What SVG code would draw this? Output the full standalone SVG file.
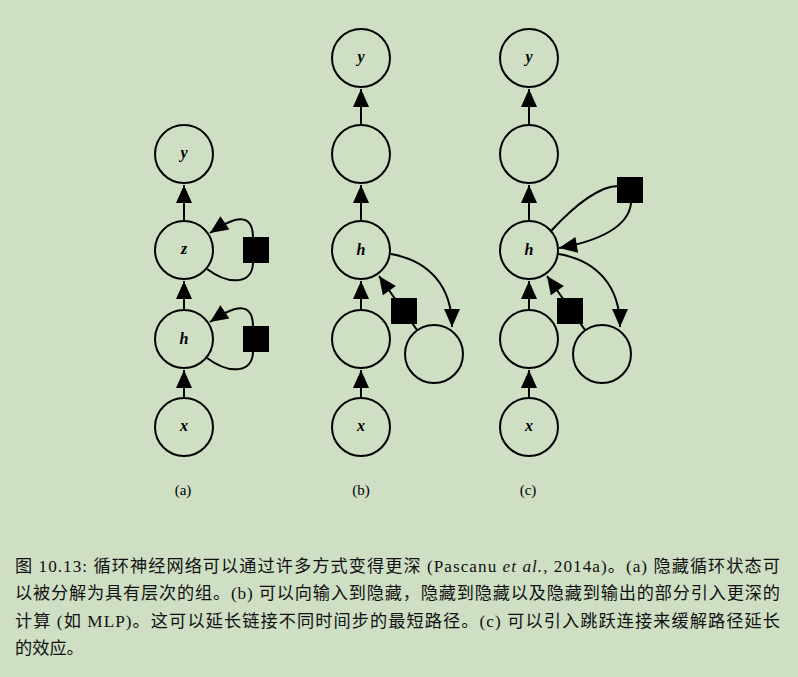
<svg xmlns="http://www.w3.org/2000/svg" width="798" height="677" viewBox="0 0 798 677">
<defs>
<marker id="ah" markerUnits="userSpaceOnUse" markerWidth="19" markerHeight="16" refX="18" refY="8" orient="auto" overflow="visible">
<path d="M0,0 L18,8 L0,16 z" fill="#000"/>
</marker>
<style>
.n{fill:none;stroke:#000;stroke-width:2}
.e{fill:none;stroke:#000;stroke-width:2;marker-end:url(#ah)}
.l{fill:none;stroke:#000;stroke-width:2}
.sq{fill:#000}
.lab{font-family:"Liberation Serif",serif;font-style:italic;font-weight:bold;font-size:16px;text-anchor:middle}
.sub{font-family:"Liberation Serif",serif;font-size:15px;text-anchor:middle}
.cap{font-family:"Liberation Serif","Noto Sans CJK SC",serif;font-size:17.2px;fill:#111}
</style>
</defs>
<rect width="798" height="677" fill="#cedfc4"/>

<g id="connectors">
<!-- (a) -->
<line class="e" x1="184" y1="398" x2="184" y2="370"/>
<line class="e" x1="184" y1="310" x2="184" y2="281"/>
<line class="e" x1="184" y1="221" x2="184" y2="185"/>
<path class="e" d="M207,269 C230,286 253,284 253,262 L253,238 C253,214 238,214 210,233"/>
<path class="e" d="M207,358 C230,375 253,373 253,351 L253,327 C253,303 238,303 210,322"/>
<!-- (b) -->
<line class="e" x1="361" y1="398" x2="361" y2="370"/>
<line class="e" x1="361" y1="310" x2="361" y2="281"/>
<line class="e" x1="361" y1="221" x2="361" y2="185"/>
<line class="e" x1="361" y1="125" x2="361" y2="89"/>
<line class="e" x1="417" y1="330" x2="379" y2="276"/>
<path class="e" d="M391,254 C430,261 452,287 452,327"/>
<!-- (c) -->
<line class="e" x1="529" y1="398" x2="529" y2="370"/>
<line class="e" x1="529" y1="310" x2="529" y2="281"/>
<line class="e" x1="529" y1="221" x2="529" y2="185"/>
<line class="e" x1="529" y1="125" x2="529" y2="89"/>
<line class="e" x1="585" y1="330" x2="547" y2="276"/>
<path class="e" d="M559,254 C598,261 620,287 620,327"/>
<path class="l" d="M551,231 C575,205 600,186 618,186"/>
<path class="e" d="M631,203 C629,226 600,241 559,248"/>
</g>

<g id="a-y"><circle class="n" cx="184" cy="154" r="29"/><text class="lab" x="184" y="158">y</text></g>
<g id="a-z"><circle class="n" cx="184" cy="250" r="29"/><text class="lab" x="184" y="254">z</text></g>
<g id="a-h"><circle class="n" cx="184" cy="339" r="29"/><text class="lab" x="184" y="344">h</text></g>
<g id="a-x"><circle class="n" cx="184" cy="427" r="29"/><text class="lab" x="184" y="431">x</text></g>
<g id="a-sq1"><rect class="sq" x="243" y="237" width="26" height="26"/></g>
<g id="a-sq2"><rect class="sq" x="243" y="326" width="26" height="26"/></g>

<g id="b-y"><circle class="n" cx="361" cy="58" r="29"/><text class="lab" x="361" y="62">y</text></g>
<g id="b-c1"><circle class="n" cx="361" cy="154" r="29"/></g>
<g id="b-h"><circle class="n" cx="361" cy="250" r="29"/><text class="lab" x="361" y="255">h</text></g>
<g id="b-c2"><circle class="n" cx="361" cy="339" r="29"/></g>
<g id="b-x"><circle class="n" cx="361" cy="427" r="29"/><text class="lab" x="361" y="431">x</text></g>
<g id="b-c3"><circle class="n" cx="434" cy="354" r="29"/></g>
<g id="b-sq"><rect class="sq" x="391" y="298" width="26" height="26"/></g>

<g id="c-y"><circle class="n" cx="529" cy="58" r="29"/><text class="lab" x="529" y="62">y</text></g>
<g id="c-c1"><circle class="n" cx="529" cy="154" r="29"/></g>
<g id="c-h"><circle class="n" cx="529" cy="250" r="29"/><text class="lab" x="529" y="255">h</text></g>
<g id="c-c2"><circle class="n" cx="529" cy="339" r="29"/></g>
<g id="c-x"><circle class="n" cx="529" cy="427" r="29"/><text class="lab" x="529" y="431">x</text></g>
<g id="c-c3"><circle class="n" cx="602" cy="354" r="29"/></g>
<g id="c-sq"><rect class="sq" x="557" y="298" width="26" height="26"/></g>
<g id="c-sq2"><rect class="sq" x="617" y="177" width="26" height="26"/></g>

<g id="sublabels">
<text class="sub" x="183" y="495">(a)</text>
<text class="sub" x="361" y="495">(b)</text>
<text class="sub" x="528" y="495">(c)</text>
</g>

<g id="caption">
<text class="cap" x="15" y="572" textLength="765" lengthAdjust="spacing">图 10.13: 循环神经网络可以通过许多方式变得更深 (Pascanu <tspan font-style="italic">et al.</tspan>, 2014a)。(a) 隐藏循环状态可</text>
<text class="cap" x="15" y="599" textLength="765" lengthAdjust="spacing">以被分解为具有层次的组。(b) 可以向输入到隐藏，隐藏到隐藏以及隐藏到输出的部分引入更深的</text>
<text class="cap" x="15" y="627" textLength="765" lengthAdjust="spacing">计算 (如 MLP)。这可以延长链接不同时间步的最短路径。(c) 可以引入跳跃连接来缓解路径延长</text>
<text class="cap" x="15" y="654">的效应。</text>
</g>
</svg>
